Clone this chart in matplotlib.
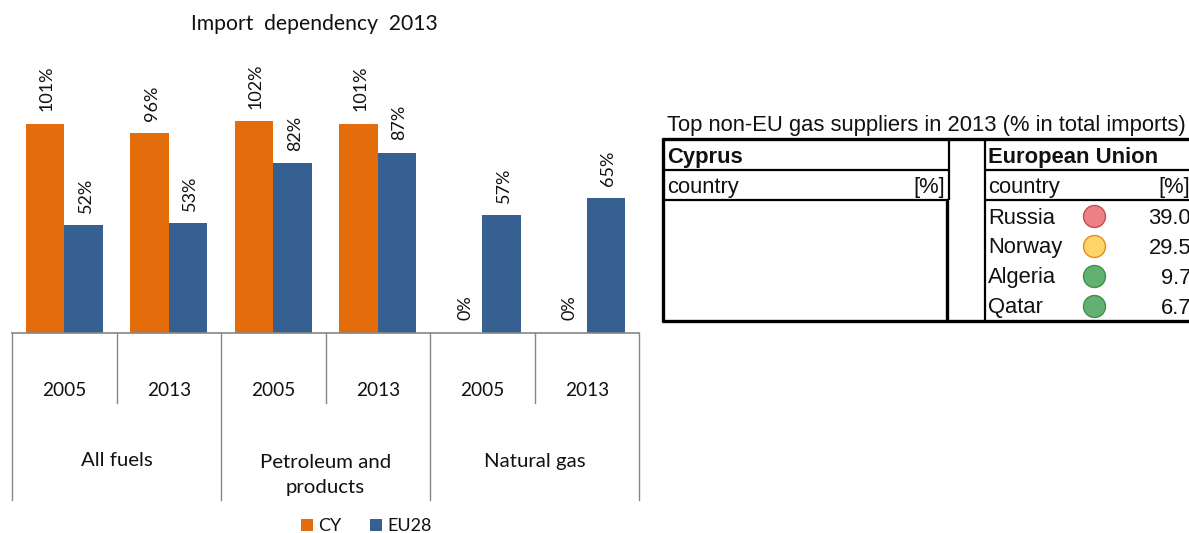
import numpy as np
import matplotlib
matplotlib.use("Agg")
import matplotlib.pyplot as plt

# dados do grafico
anos = ["2005", "2013", "2005", "2013", "2005", "2013"]
grupos = ["All fuels", "Petroleum and\nproducts", "Natural gas"]
cy = [101, 96.4, 102.4, 101, 0, 0]
eu28 = [52, 53, 82, 87, 57, 65]

# dados da tabela
paises_eu = ["Russia", "Norway", "Algeria", "Qatar"]
valores_eu = ["39.0", "29.5", "9.7", "6.7"]
cores_eu = ["#ee7f85", "#fdd468", "#62b170", "#62b170"]
bordas_eu = ["#c0504d", "#e88a1a", "#3f8f4f", "#3f8f4f"]

LARANJA = "#e46c0a"
AZUL = "#376092"
CINZA = "#868686"
FONTE = "Lato"
FONTE_TAB = "Liberation Sans"
TAM_TAB = 15.8

L, A = 1189, 533
fig = plt.figure(figsize=(L / 100, A / 100), dpi=100, facecolor="white")

# eixo das barras, posicionado em pixels
x0, x1, base = 12, 639, 333
ax = fig.add_axes([x0 / L, (A - base) / A, (x1 - x0) / L, base / A])
ax.set_xlim(-0.5, 5.5)
ax.set_ylim(0, base / 2.07)
ax.axis("off")

x = np.arange(len(anos))
larg = 0.37
b1 = ax.bar(x - larg / 2, cy, larg, color=LARANJA, label="CY")
b2 = ax.bar(x + larg / 2, eu28, larg, color=AZUL, label="EU28")

for barras in (b1, b2):
    for b in barras:
        v = b.get_height()
        ax.annotate(f"{v:.0f}%", (b.get_x() + b.get_width() / 2, v),
                    xytext=(1.5, 9), textcoords="offset points",
                    rotation=90, ha="center", va="bottom",
                    fontsize=13, family=FONTE, color="#111111")

# camada em pixels para o eixo categorico e a tabela
px = fig.add_axes([0, 0, 1, 1], zorder=3)
px.set_xlim(0, L)
px.set_ylim(A, 0)
px.axis("off")
px.patch.set_alpha(0)

passo = (x1 - x0) / len(anos)
px.plot([x0, x1], [base, base], color=CINZA, lw=1.2)
for i, ano in enumerate(anos):
    px.text(x0 + passo * (i + 0.5), 391, ano, ha="center", va="center",
            fontsize=13.7, family=FONTE, color="#111111")
    if i % 2 == 1:
        px.plot([x0 + passo * i] * 2, [base, 403], color=CINZA, lw=1)
for i in range(len(grupos) + 1):
    px.plot([x0 + 2 * passo * i] * 2, [base, 500], color=CINZA, lw=1)
for i, g in enumerate(grupos):
    # rotulo de uma linha fica na altura da primeira linha do rotulo duplo
    y_g = 461 if "\n" not in g else 475
    px.text(x0 + passo * (2 * i + 1), y_g, g, ha="center", va="center",
            fontsize=14.7, family=FONTE, color="#111111", linespacing=1.62)

px.text(314, 24, "Import  dependency  2013", ha="center", va="center",
        fontsize=15.2, family=FONTE, color="#111111")

# legenda
leg = px.legend(handles=[b1, b2], loc="center", bbox_to_anchor=(366, 526),
                bbox_transform=px.transData, ncol=2, frameon=False,
                handlelength=0.67, handleheight=0.67, handletextpad=0.28,
                columnspacing=1.6, prop={"family": FONTE, "size": 13},
                labelcolor="#111111")

# tabela
def linha(xs, ys, lw=1.6):
    px.plot(xs, ys, color="black", lw=lw, solid_capstyle="butt")

def texto(x, y, s, ha="left", weight="normal"):
    px.text(x, y + 2, s, ha=ha, va="center", fontsize=TAM_TAB, family=FONTE_TAB,
            weight=weight, color="#111111", clip_on=True)

texto(667, 124, "Top non-EU gas suppliers in 2013 (% in total imports)")

linha([662, 1189], [139, 139], 2.4)
linha([663, 663], [138, 322], 2.4)
linha([662, 1189], [321, 321], 2.4)
linha([947, 947], [200, 322], 2.4)
linha([949, 949], [139, 200], 1.6)
linha([985, 985], [139, 322], 1.6)
linha([663, 949], [170, 170])
linha([663, 949], [200, 200])
linha([985, 1189], [170, 170])
linha([985, 1189], [200, 200])

texto(667, 156, "Cyprus", weight="bold")
texto(988, 156, "European Union", weight="bold")
texto(667, 186, "country")
texto(945, 186, "[%]", ha="right")
texto(988, 186, "country")
texto(1190, 186, "[%]", ha="right")

for i, pais in enumerate(paises_eu):
    y = 216 + 30 * i
    texto(988, y, pais)
    px.scatter([1094], [y], s=250, color=cores_eu[i], edgecolor=bordas_eu[i], lw=1)
    texto(1191, y, valores_eu[i], ha="right")

fig.savefig("out.png", dpi=100)
